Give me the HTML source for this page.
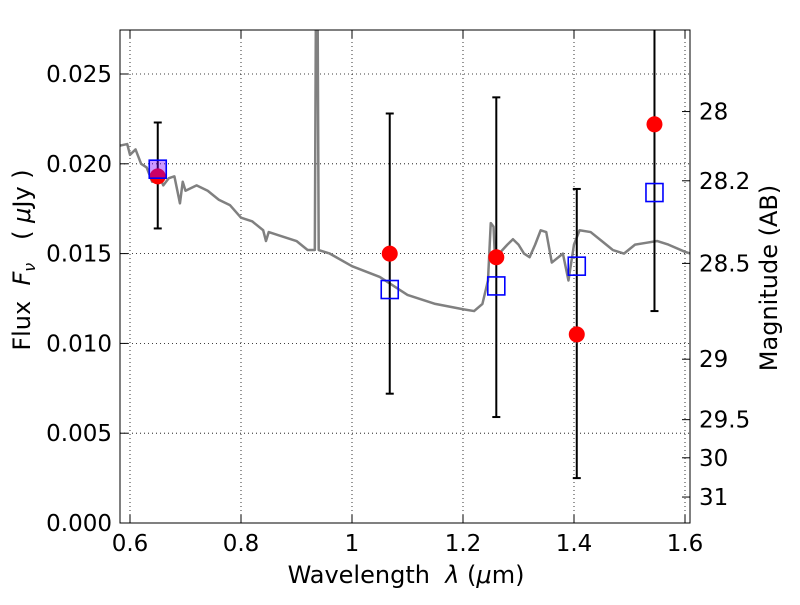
<!DOCTYPE html>
<html><head><meta charset="utf-8"><style>
body{margin:0;background:#fff}
svg{font-family:"DejaVu Sans","Liberation Sans",sans-serif}
</style></head><body>
<svg id="chart" width="800" height="600" viewBox="0 0 800 600" xmlns="http://www.w3.org/2000/svg">
<rect width="800" height="600" fill="#fff"/>
<defs><clipPath id="clip"><rect x="120" y="30" width="570" height="493"/></clipPath></defs>
<g id="grid"></g>
<g id="plot" clip-path="url(#clip)"></g>
<rect x="120" y="30" width="570" height="493" fill="none" stroke="#000" stroke-width="1"/>
<g id="axes"></g>
<text x="406" y="583" font-size="24" text-anchor="middle" xml:space="preserve">Wavelength  <tspan font-style="italic">λ</tspan> (<tspan font-style="italic">μ</tspan>m)</text>
<text transform="translate(30,260) rotate(-90)" font-size="24" text-anchor="middle" xml:space="preserve">Flux  <tspan font-style="italic">F<tspan font-size="16" dy="5">ν</tspan></tspan><tspan dy="-5">   ( </tspan><tspan font-style="italic">μ</tspan>Jy )</text>
<text transform="translate(777,278) rotate(-90)" font-size="24" text-anchor="middle">Magnitude (AB)</text>
</svg>
<script>
const xTicks=[0.6,0.8,1.0,1.2,1.4,1.6];
const xTickLabels=["0.6","0.8","1","1.2","1.4","1.6"];
const yTicks=[0,0.005,0.01,0.015,0.02,0.025];
const yTickLabels=["0.000","0.005","0.010","0.015","0.020","0.025"];
const magTicks=[28,28.2,28.5,29,29.5,30,31];
const magTickLabels=["28","28.2","28.5","29","29.5","30","31"];
const specWave=[0.58,0.595,0.6,0.61,0.62,0.63,0.64,0.65,0.66,0.67,0.68,0.69,0.695,0.70,0.72,0.74,0.76,0.78,0.80,0.82,0.84,0.845,0.85,0.87,0.90,0.92,0.933,0.935,0.938,0.94,0.96,1.0,1.05,1.10,1.15,1.2,1.22,1.235,1.245,1.25,1.255,1.258,1.265,1.28,1.29,1.30,1.31,1.32,1.33,1.34,1.35,1.36,1.38,1.39,1.40,1.41,1.43,1.45,1.47,1.49,1.51,1.53,1.55,1.57,1.6,1.61];
const specFlux=[0.021,0.0211,0.0205,0.0208,0.020,0.0198,0.019,0.0195,0.0188,0.0192,0.0193,0.0178,0.019,0.0185,0.0188,0.0185,0.0180,0.0177,0.0170,0.0168,0.0163,0.0157,0.0162,0.016,0.0157,0.0152,0.0152,0.029,0.029,0.0152,0.015,0.0143,0.0137,0.0127,0.0122,0.0119,0.0118,0.0122,0.0135,0.0167,0.0165,0.0145,0.015,0.0155,0.0158,0.0155,0.015,0.0148,0.0155,0.0163,0.0162,0.0145,0.015,0.0135,0.0155,0.0163,0.0162,0.0157,0.0152,0.0150,0.0155,0.0156,0.0157,0.0155,0.0151,0.0150];
const obsWave=[0.65,1.068,1.26,1.405,1.545];
const obsFlux=[0.0193,0.0150,0.0148,0.0105,0.0222];
const errLow=[0.0164,0.0072,0.0059,0.0025,0.0118];
const errHigh=[0.0223,0.0228,0.0237,0.0186,0.0326];
const modelFlux=[0.0197,0.0130,0.0132,0.0143,0.0184];

const NS="http://www.w3.org/2000/svg";
const X=v=>130+(v-0.6)*555;
const Y=v=>523-v*17960;
const magY=m=>Y(Math.pow(10,(23.9-m)/2.5));
function mk(tag,attrs,parent){const e=document.createElementNS(NS,tag);for(const k in attrs)e.setAttribute(k,attrs[k]);parent.appendChild(e);return e;}
const grid=document.getElementById('grid'),plot=document.getElementById('plot'),axes=document.getElementById('axes');
xTicks.forEach((t,i)=>{
 const g=mk('line',{x1:X(t),x2:X(t),y1:30,y2:523,stroke:'#000','stroke-dasharray':'1,3','stroke-width':0.8},grid);
 
 mk('line',{x1:X(t),x2:X(t),y1:523,y2:515,stroke:'#000'},axes);
 mk('line',{x1:X(t),x2:X(t),y1:30,y2:38,stroke:'#000'},axes);
 const l=mk('text',{x:X(t),y:551,'font-size':23,'text-anchor':'middle'},axes);l.textContent=xTickLabels[i];
 
});
yTicks.forEach((t,i)=>{
 const g=mk('line',{x1:120,x2:690,y1:Y(t),y2:Y(t),stroke:'#000','stroke-dasharray':'1,3','stroke-width':0.8},grid);
 
 mk('line',{x1:120,x2:128,y1:Y(t),y2:Y(t),stroke:'#000'},axes);
 const l=mk('text',{x:112,y:Y(t)+8,'font-size':23,'text-anchor':'end'},axes);l.textContent=yTickLabels[i];
 
});
magTicks.forEach((m,i)=>{
 mk('line',{x1:682,x2:690,y1:magY(m),y2:magY(m),stroke:'#000'},axes);
 const l=mk('text',{x:699,y:magY(m)+8,'font-size':23},axes);l.textContent=magTickLabels[i];
 
});
const sp=mk('polyline',{points:specWave.map((w,i)=>X(w)+','+Y(specFlux[i])).join(' '),fill:'none',stroke:'#808080','stroke-width':2.5,'stroke-linejoin':'round'},plot);

obsWave.forEach((w,i)=>{
 const x=X(w);
 const eb=mk('g',{},plot);
 
 mk('line',{x1:x,x2:x,y1:Y(errLow[i]),y2:Y(errHigh[i]),stroke:'#000','stroke-width':2},eb);
 mk('line',{x1:x-4,x2:x+4,y1:Y(errLow[i]),y2:Y(errLow[i]),stroke:'#000','stroke-width':2},eb);
 mk('line',{x1:x-4,x2:x+4,y1:Y(errHigh[i]),y2:Y(errHigh[i]),stroke:'#000','stroke-width':2},eb);
 const c=mk('circle',{cx:x,cy:Y(obsFlux[i]),r:8,fill:'#ff0000'},plot);
 
 const s=mk('rect',{x:x-8.5,y:Y(modelFlux[i])-9,width:17,height:18,fill:i===0?'rgba(128,0,255,0.4)':'none',stroke:'#0000ff','stroke-width':1.6},plot);
 
});
</script>
</body></html>
